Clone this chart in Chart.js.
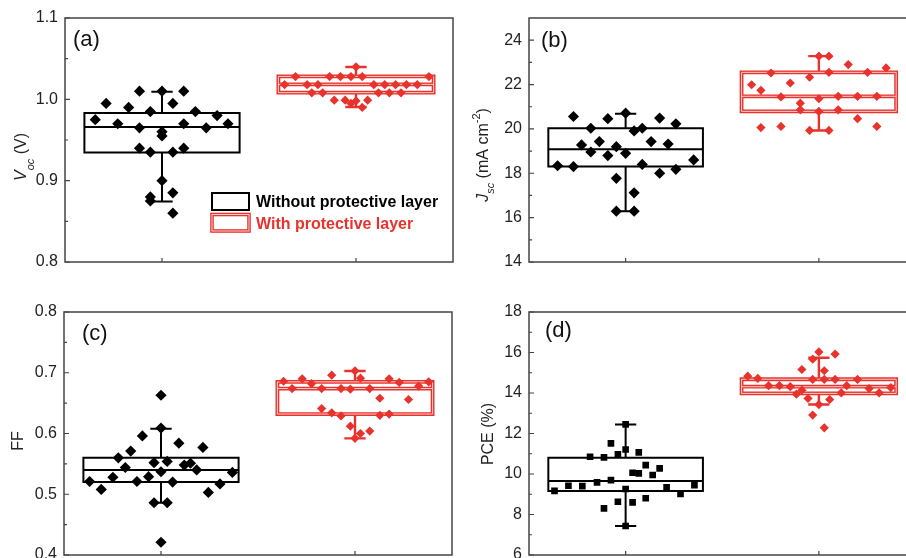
<!DOCTYPE html>
<html><head><meta charset="utf-8">
<script src="https://cdn.jsdelivr.net/npm/chart.js@4.4.0/dist/chart.umd.min.js"></script>
<style>
html,body{margin:0;padding:0;background:#fff;overflow:hidden;width:906px;height:558px;position:relative;}
canvas{position:absolute;}
</style></head><body>
<canvas id="ca" width="460" height="279" style="left:0;top:0"></canvas>
<canvas id="cb" width="480" height="279" style="left:446px;top:0"></canvas>
<canvas id="cc" width="460" height="300" style="left:0;top:279px"></canvas>
<canvas id="cd" width="480" height="300" style="left:446px;top:279px"></canvas>
<script>
// ---------------- DATA ----------------
const categories = ['Without protective layer', 'With protective layer'];

// (a) Voc (V)
const vocTicks = ['0.8', '0.9', '1.0', '1.1'];
const vocWithout = [0.975,0.995,0.970,0.990,1.010,0.965,0.940,0.985,0.935,0.880,0.875,1.010,0.960,0.955,0.900,0.995,0.935,0.885,0.860,1.010,0.970,0.940,0.985,0.965,0.980,0.970];
const vocWithoutJitter = [-0.86,-0.72,-0.57,-0.43,-0.29,-0.29,-0.29,-0.15,-0.15,-0.15,-0.15,0,0,0,0,0.14,0.14,0.14,0.14,0.28,0.28,0.28,0.43,0.57,0.71,0.85];
const vocWith = [1.028,1.028,1.028,1.028,1.028,1.028,1.040,1.018,1.018,1.018,1.018,1.018,1.018,1.018,1.018,1.008,1.008,1.008,1.008,1.008,0.999,0.999,0.998,0.999,0.990,0.995];
const vocWithJitter = [-0.78,-0.34,-0.20,-0.065,0.08,0.94,0,-0.92,-0.63,-0.49,0.23,0.37,0.51,0.65,0.79,-0.57,-0.43,0.29,0.43,0.58,-0.28,-0.14,0,0.15,0.08,-0.065];
// box stats: [lower whisker, Q1, median, Q3, upper whisker]
const vocBoxWithout = [0.8745, 0.9346, 0.966, 0.9832, 1.0094];
const vocBoxWith = [0.9906, 1.0082, 1.0184, 1.0282, 1.0397];

// (b) Jsc (mA cm-2)
const jscTicks = ['14', '16', '18', '20', '22', '24'];
const jscWithout = [18.34,20.56,18.30,19.28,20.03,18.96,19.43,20.46,18.80,19.20,17.77,16.29,20.71,18.90,19.91,17.12,16.29,20.03,18.40,19.43,20.49,18.00,19.32,20.23,18.18,18.60];
const jscWithoutJitter = [-0.88,-0.675,-0.675,-0.57,-0.45,-0.45,-0.34,-0.23,-0.23,-0.12,-0.12,-0.12,0,0,0.11,0.11,0.11,0.215,0.215,0.33,0.44,0.44,0.55,0.65,0.65,0.88];
const jscWith = [21.99,21.74,20.06,22.52,21.44,20.11,22.07,21.16,20.86,22.33,19.93,23.28,21.36,20.79,23.28,22.55,19.93,21.47,20.86,22.90,21.47,20.46,22.55,21.47,20.11,22.75];
const jscWithJitter = [-0.87,-0.75,-0.75,-0.62,-0.49,-0.49,-0.37,-0.24,-0.24,-0.12,-0.12,0,0,0,0.13,0.13,0.13,0.25,0.25,0.38,0.50,0.50,0.63,0.75,0.75,0.87];
const jscBoxWithout = [16.29, 18.30, 19.08, 20.03, 20.68];
const jscBoxWith = [19.93, 20.79, 21.47, 22.55, 23.28];

// (c) FF
const ffTicks = ['0.4', '0.5', '0.6', '0.7', '0.8'];
const ffWithout = [0.521,0.508,0.528,0.560,0.544,0.571,0.521,0.596,0.529,0.552,0.486,0.663,0.609,0.537,0.421,0.554,0.486,0.520,0.584,0.548,0.551,0.540,0.577,0.503,0.517,0.536];
const ffWithoutJitter = [-0.92,-0.77,-0.62,-0.55,-0.46,-0.39,-0.31,-0.24,-0.16,-0.09,-0.09,0,0,0,0,0.08,0.08,0.15,0.23,0.30,0.38,0.46,0.54,0.61,0.76,0.92];
const ffWith = [0.686,0.674,0.690,0.682,0.674,0.641,0.696,0.634,0.674,0.629,0.673,0.612,0.703,0.592,0.691,0.600,0.674,0.604,0.658,0.630,0.690,0.632,0.684,0.656,0.678,0.685];
const ffWithJitter = [-0.92,-0.81,-0.68,-0.56,-0.43,-0.43,-0.30,-0.30,-0.18,-0.18,-0.06,-0.06,0,0,0.07,0.07,0.19,0.19,0.32,0.32,0.44,0.44,0.57,0.69,0.82,0.95];
const ffBoxWithout = [0.486, 0.520, 0.540, 0.560, 0.608];
const ffBoxWith = [0.592, 0.632, 0.674, 0.685, 0.703];

// (d) PCE (%)
const pceTicks = ['6', '8', '10', '12', '14', '16', '18'];
const pceWithout = [9.17,9.42,9.40,10.85,9.59,10.82,8.30,11.51,9.70,10.97,8.63,12.45,11.21,9.26,7.43,10.06,8.60,11.07,10.03,10.44,8.80,9.95,10.28,9.34,9.01,9.45];
const pceWithoutJitter = [-0.92,-0.74,-0.56,-0.46,-0.37,-0.28,-0.28,-0.19,-0.19,-0.10,-0.10,0,0,0,0,0.09,0.09,0.17,0.17,0.26,0.26,0.35,0.44,0.53,0.71,0.89];
const pceWith = [14.83,14.72,14.36,14.36,14.31,13.94,14.14,15.16,13.73,15.67,14.67,12.91,16.03,13.43,15.10,14.67,12.28,13.68,15.92,14.67,14.01,14.36,14.67,14.22,14.01,14.27];
const pceWithJitter = [-0.92,-0.79,-0.65,-0.51,-0.37,-0.29,-0.22,-0.22,-0.14,-0.08,-0.08,-0.08,0,0,0.07,0.07,0.07,0.14,0.21,0.21,0.29,0.36,0.50,0.65,0.78,0.93];
const pceBoxWithout = [7.43, 9.16, 9.65, 10.80, 12.45];
const pceBoxWith = [13.43, 13.98, 14.31, 14.68, 15.74];

// ---------------- STYLE ----------------
const RED = '#e8322c';
const BLACK = '#000000';
const FONT = '"Liberation Sans", Arial, Helvetica, sans-serif';
const BOX_HALF = 0.4;   // half box width in category units
const CAP_HALF = 0.055; // half whisker-cap width

function drawBox(ctx, xs, ys, cx, st, double, color) {
  const xl = xs.getPixelForValue(cx - BOX_HALF), xr = xs.getPixelForValue(cx + BOX_HALF);
  const cl = xs.getPixelForValue(cx - CAP_HALF), cr = xs.getPixelForValue(cx + CAP_HALF);
  const xc = xs.getPixelForValue(cx);
  const [lo, q1, med, q3, hi] = st.map(v => ys.getPixelForValue(v));
  ctx.save();
  ctx.lineCap = 'butt';
  ctx.strokeStyle = color; ctx.lineWidth = double ? 2.4 : 2;
  ctx.beginPath();
  ctx.moveTo(xc, q3); ctx.lineTo(xc, hi);
  ctx.moveTo(xc, q1); ctx.lineTo(xc, lo);
  ctx.moveTo(cl, hi); ctx.lineTo(cr, hi);
  ctx.moveTo(cl, lo); ctx.lineTo(cr, lo);
  ctx.stroke();
  const path = () => {
    ctx.beginPath();
    ctx.rect(xl, q3, xr - xl, q1 - q3);
    ctx.moveTo(xl, med); ctx.lineTo(xr, med);
  };
  if (double) {
    path(); ctx.strokeStyle = color; ctx.lineWidth = 3.8; ctx.stroke();
    path(); ctx.strokeStyle = '#fbe3e2'; ctx.lineWidth = 0.9; ctx.stroke();
  } else {
    path(); ctx.strokeStyle = color; ctx.lineWidth = 2; ctx.stroke();
  }
  ctx.restore();
}

function drawRotTitle(ctx, parts, baseX, centerY) {
  ctx.save();
  let total = 0;
  parts.forEach(p => { ctx.font = p.font; p.w = ctx.measureText(p.text).width; total += p.w; });
  ctx.translate(baseX, centerY);
  ctx.rotate(-Math.PI / 2);
  ctx.fillStyle = '#222';
  ctx.textBaseline = 'alphabetic';
  ctx.textAlign = 'left';
  let x = -total / 2;
  parts.forEach(p => { ctx.font = p.font; ctx.fillText(p.text, x, p.dy || 0); x += p.w; });
  ctx.restore();
}

const decorPlugin = {
  id: 'decor',
  beforeDatasetsDraw(chart) {
    const o = chart.options.plugins.decor;
    const ctx = chart.ctx, a = chart.chartArea;
    const xs = chart.scales.x, ys = chart.scales.y;
    ctx.save();
    ctx.strokeStyle = '#444'; ctx.lineWidth = 1.5;
    ctx.strokeRect(a.left, a.top, a.right - a.left, a.bottom - a.top);
    ctx.lineWidth = 1.2; ctx.strokeStyle = '#444';
    ctx.beginPath();
    const tv = o.ticks.map(parseFloat);
    tv.forEach((v, i) => {
      const y = ys.getPixelForValue(v);
      ctx.moveTo(a.left, y); ctx.lineTo(a.left + 5, y);
      if (i < tv.length - 1) {
        const ym = ys.getPixelForValue((v + tv[i + 1]) / 2);
        ctx.moveTo(a.left, ym); ctx.lineTo(a.left + 3, ym);
      }
    });
    [1, 2].forEach(c => {
      const x = xs.getPixelForValue(c);
      ctx.moveTo(x, a.bottom); ctx.lineTo(x, a.bottom - 4);
    });
    ctx.stroke();
    ctx.restore();
    drawBox(ctx, xs, ys, 1, o.boxWithout, false, BLACK);
    drawBox(ctx, xs, ys, 2, o.boxWith, true, RED);
  },
  afterDraw(chart) {
    const o = chart.options.plugins.decor;
    const ctx = chart.ctx;
    ctx.save();
    ctx.fillStyle = '#111';
    ctx.font = '22px ' + FONT;
    ctx.textAlign = 'left'; ctx.textBaseline = 'alphabetic';
    ctx.fillText(o.letter, o.letterX, o.letterY);
    ctx.restore();
    drawRotTitle(ctx, o.title, o.titleX, o.titleY);
    if (o.legend) {
      ctx.save();
      ctx.lineWidth = 2; ctx.strokeStyle = BLACK;
      ctx.strokeRect(212, 193, 37, 17);
      ctx.strokeStyle = RED; ctx.lineWidth = 3.6;
      ctx.strokeRect(212, 214.5, 37, 16.5);
      ctx.strokeStyle = '#fbe3e2'; ctx.lineWidth = 0.9;
      ctx.strokeRect(212, 214.5, 37, 16.5);
      ctx.font = 'bold 16px ' + FONT;
      ctx.textAlign = 'left'; ctx.textBaseline = 'alphabetic';
      ctx.fillStyle = BLACK; ctx.fillText(categories[0], 256, 207);
      ctx.fillStyle = RED; ctx.fillText(categories[1], 256, 228.5);
      ctx.restore();
    }
  }
};

function makePanel(id, p) {
  const toPts = (vals, jit, c) => vals.map((v, i) => ({ x: c + jit[i] * BOX_HALF, y: v }));
  const tickNums = p.ticks.map(parseFloat);
  return new Chart(document.getElementById(id), {
    type: 'scatter',
    data: {
      datasets: [
        { label: categories[0], data: toPts(p.without, p.withoutJit, 1), pointStyle: p.blackStyle,
          pointRadius: p.blackR, backgroundColor: BLACK, borderColor: BLACK, borderWidth: 0 },
        { label: categories[1], data: toPts(p.with, p.withJit, 2), pointStyle: 'rectRot',
          pointRadius: 4.6, backgroundColor: RED, borderColor: RED, borderWidth: 0 }
      ]
    },
    options: {
      responsive: false, animation: false, devicePixelRatio: 1,
      layout: { padding: { left: 0, top: p.pad[0], right: p.pad[1], bottom: p.pad[2] } },
      plugins: {
        legend: { display: false }, tooltip: { enabled: false },
        decor: { ticks: p.ticks, boxWithout: p.boxWithout, boxWith: p.boxWith, letter: p.letter,
                 letterX: p.letterPos[0], letterY: p.letterPos[1], title: p.title,
                 titleX: p.titlePos[0], titleY: p.titlePos[1], legend: !!p.legend }
      },
      scales: {
        x: { type: 'linear', display: false, min: 0.5, max: 2.5 },
        y: {
          type: 'linear', min: p.min, max: p.max,
          grid: { display: false, drawTicks: false }, border: { display: false },
          ticks: {
            padding: 7, color: '#222', font: { family: FONT, size: 16 },
            callback: v => { const i = tickNums.findIndex(t => Math.abs(t - v) < 1e-9); return i >= 0 ? p.ticks[i] : ''; }
          },
          afterBuildTicks: s => { s.ticks = tickNums.map(v => ({ value: v })); },
          afterFit: s => { s.width = p.axisW; }
        }
      }
    },
    plugins: [decorPlugin]
  });
}

const F16 = '16px ' + FONT, I16 = 'italic 16px ' + FONT, I11 = 'italic 11px ' + FONT, N11 = '11px ' + FONT;

makePanel('ca', {
  without: vocWithout, withoutJit: vocWithoutJitter, with: vocWith, withJit: vocWithJitter,
  boxWithout: vocBoxWithout, boxWith: vocBoxWith, ticks: vocTicks, min: 0.8, max: 1.1,
  blackStyle: 'rectRot', blackR: 5.6, axisW: 65, pad: [18, 7, 17],
  letter: '(a)', letterPos: [73, 45.5],
  title: [{ text: 'V', font: I16 }, { text: 'oc', font: I11, dy: 8 }, { text: ' (V)', font: F16 }],
  titlePos: [26, 157], legend: true
});
makePanel('cb', {
  without: jscWithout, withoutJit: jscWithoutJitter, with: jscWith, withJit: jscWithJitter,
  boxWithout: jscBoxWithout, boxWith: jscBoxWith, ticks: jscTicks, min: 14, max: 25,
  blackStyle: 'rectRot', blackR: 5.6, axisW: 83, pad: [18, 10.5, 17],
  letter: '(b)', letterPos: [95, 47],
  title: [{ text: 'J', font: I16 }, { text: 'sc', font: I11, dy: 6 }, { text: ' (mA cm', font: F16 },
          { text: '-2', font: N11, dy: -8 }, { text: ')', font: F16 }],
  titlePos: [42, 155]
});
makePanel('cc', {
  without: ffWithout, withoutJit: ffWithoutJitter, with: ffWith, withJit: ffWithJitter,
  boxWithout: ffBoxWithout, boxWith: ffBoxWith, ticks: ffTicks, min: 0.4, max: 0.8,
  blackStyle: 'rectRot', blackR: 5.6, axisW: 64, pad: [33, 8, 24],
  letter: '(c)', letterPos: [82, 61],
  title: [{ text: 'FF', font: F16 }],
  titlePos: [23, 162]
});
makePanel('cd', {
  without: pceWithout, withoutJit: pceWithoutJitter, with: pceWith, withJit: pceWithJitter,
  boxWithout: pceBoxWithout, boxWith: pceBoxWith, ticks: pceTicks, min: 6, max: 18,
  blackStyle: 'rect', blackR: 4.7, axisW: 83, pad: [33, 10.5, 24],
  letter: '(d)', letterPos: [99, 58],
  title: [{ text: 'PCE (%)', font: F16 }],
  titlePos: [47, 155]
});
</script>
</body></html>
